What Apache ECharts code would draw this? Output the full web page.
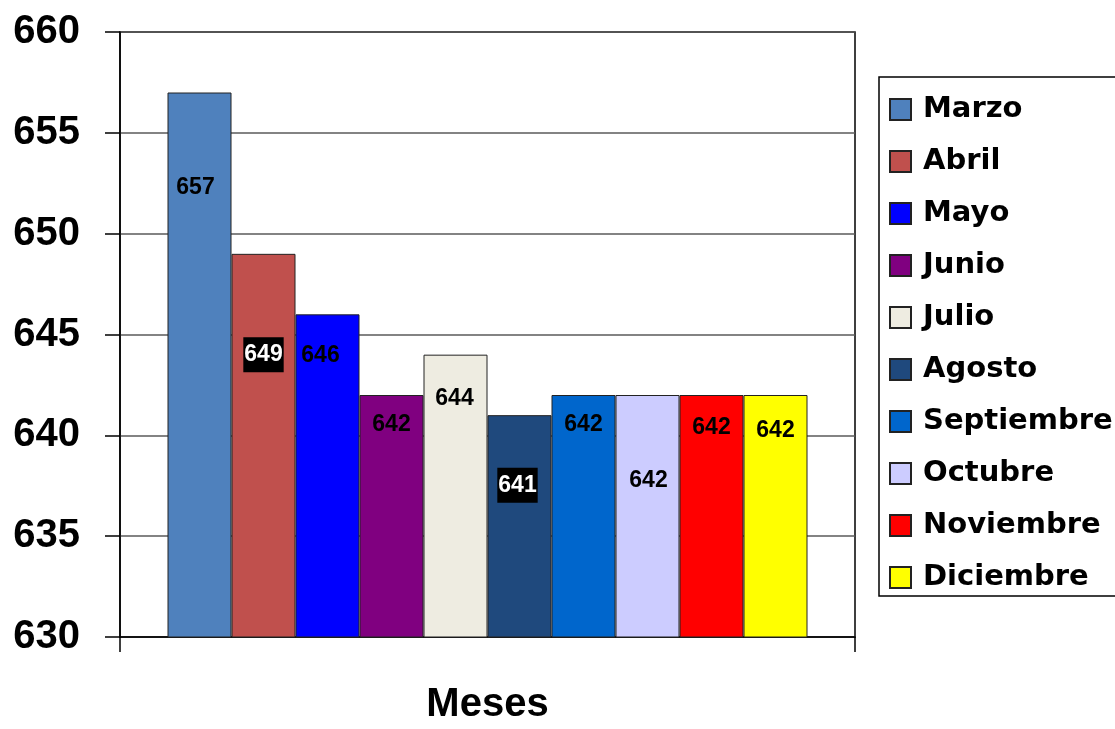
<!DOCTYPE html>
<html>
<head>
<meta charset="utf-8">
<script src="https://cdn.jsdelivr.net/npm/echarts@6/dist/echarts.min.js"></script>
<style>html,body{margin:0;padding:0;background:#fff}#c{width:1115px;height:729px}</style>
</head>
<body>
<div id="c"></div>
<script>
var months = ['Marzo','Abril','Mayo','Junio','Julio','Agosto','Septiembre','Octubre','Noviembre','Diciembre'];
var values = [657, 649, 646, 642, 644, 641, 642, 642, 642, 642];
var yTicks = [630, 635, 640, 645, 650, 655, 660];

var colors = ['#4F81BD','#C0504D','#0000FF','#800080','#EEECE1','#1F497D','#0066CC','#CCCCFF','#FF0000','#FFFF00'];
var labelDy = [95, 101, 41, 30, 44, 70, 30, 86, 33, 36];
var labelDx = [-4, 0, -7, 0, -1, -2, 0, 1, 0, 0];
var labelBoxed = [false, true, false, false, false, true, false, false, false, false];

var series = months.map(function(m, i){
  return {
    name: m,
    type: 'bar',
    barWidth: 64,
    barGap: '0%',
    data: [values[i]],
    itemStyle: { color: colors[i], borderColor: '#222', borderWidth: 1 },
    label: {
      show: true,
      position: [32 + labelDx[i], labelDy[i]],
      align: 'center',
      verticalAlign: 'middle',
      fontFamily: 'Liberation Sans',
      fontWeight: 'bold',
      fontSize: 23,
      color: labelBoxed[i] ? '#fff' : '#000',
      backgroundColor: labelBoxed[i] ? '#000' : 'transparent',
      padding: labelBoxed[i] ? [7, 1, 5, 1] : 0
    },
    emphasis: { disabled: true }
  };
});

var chart = echarts.init(document.getElementById('c'));
chart.setOption({
  animation: false,
  grid: { left: 120, right: 260, top: 32, bottom: 92, outerBoundsMode: 'none', containLabel: false, show: true, borderColor: '#000', borderWidth: 1.5, backgroundColor: 'transparent' },
  legend: {
    orient: 'vertical',
    left: 879, top: 77,
    itemWidth: 21, itemHeight: 21, itemGap: 23,
    padding: [18, 4, 4, 10],
    borderColor: '#000', borderWidth: 1.5,
    icon: 'rect',
    data: months,
    textStyle: { fontFamily: 'DejaVu Sans', fontWeight: 'bold', fontSize: 29, color: '#000', padding: [0, 0, 0, 7] }
  },
  xAxis: {
    type: 'category',
    data: [''],
    boundaryGap: true,
    axisLine: { lineStyle: { color: '#000', width: 1.5 } },
    axisTick: { show: true, length: 15, lineStyle: { color: '#000', width: 1.5 } },
    axisLabel: { show: false },
    name: 'Meses',
    nameLocation: 'middle',
    nameGap: 48,
    nameTextStyle: { fontFamily: 'Liberation Sans', fontWeight: 'bold', fontSize: 40, color: '#000' }
  },
  yAxis: {
    type: 'value',
    min: yTicks[0], max: yTicks[yTicks.length - 1], interval: 5,
    axisLine: { show: true, lineStyle: { color: '#000', width: 1.5 } },
    axisTick: { show: true, length: 15, lineStyle: { color: '#000', width: 1.5 } },
    axisLabel: { margin: 40, fontFamily: 'Liberation Sans', fontWeight: 'bold', fontSize: 40, color: '#000' },
    splitLine: { show: true, lineStyle: { color: '#5a5a5a', width: 1.5 } }
  },
  series: series
});
</script>
</body>
</html>
